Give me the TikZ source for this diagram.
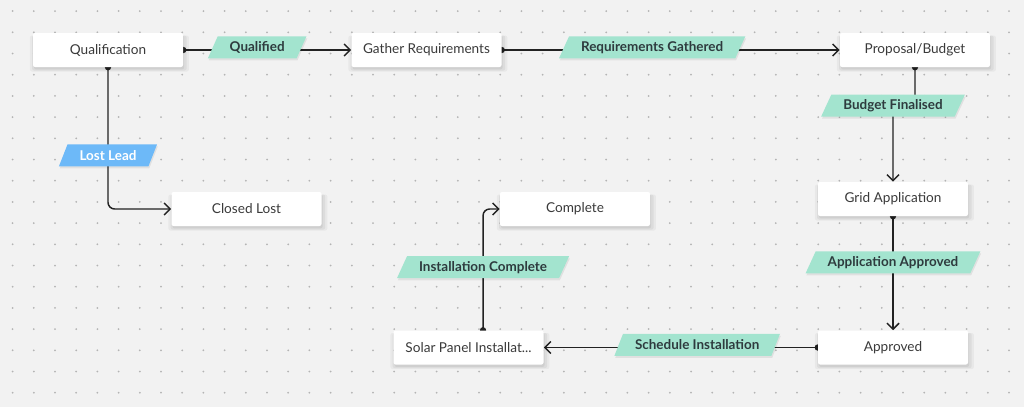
\documentclass[tikz,border=0pt]{standalone}
\usepackage{fontspec}
\setmainfont{Lato}
\usetikzlibrary{shapes.geometric,arrows.meta,shadows,backgrounds}
\definecolor{Canvas}{HTML}{F2F2F2}
\definecolor{GridDot}{HTML}{B4B4B4}
\definecolor{Ink}{HTML}{222222}
\definecolor{BoxText}{HTML}{3A3A3A}
\definecolor{Mint}{HTML}{A3E4CF}
\definecolor{Sky}{HTML}{6DB9F8}
\definecolor{TagText}{HTML}{2E3B3E}

\begin{document}
\begin{tikzpicture}[x=.75pt,y=-.75pt,
  softshade/.style={
   drop shadow={shadow xshift=1pt,shadow yshift=-2.5pt,shadow scale=1.06,opacity=.04,fill=black},
   drop shadow={shadow xshift=1pt,shadow yshift=-2.2pt,shadow scale=1.03,opacity=.05,fill=black},
   drop shadow={shadow xshift=.8pt,shadow yshift=-1.8pt,opacity=.06,fill=black}},
  stage/.style={fill=white,rounded corners=1.5pt,minimum width=112.5pt,
   minimum height=25.5pt,inner sep=0pt,text=BoxText,
   font=\fontsize{10.2}{12}\selectfont,softshade},
  tag/.style={trapezium,trapezium stretches=true,trapezium left angle=56,
   trapezium right angle=124,sharp corners,
   fill=Mint,minimum height=16.5pt,inner ysep=1pt,inner xsep=9pt,text=TagText,
   font=\fontsize{10.1}{12}\selectfont\bfseries,yshift=2pt,
   drop shadow={shadow xshift=.6pt,shadow yshift=-1.6pt,opacity=.07,fill=black}},
  losttag/.style={tag,fill=Sky,text=white},
  link/.style={draw=Ink,line width=1.1pt,rounded corners=5pt,shorten <=-2.3pt,
   {Circle[length=4.6pt]}-{Straight Barb[length=4.5pt,width=9pt]}}]
  \useasboundingbox (0,0) rectangle (1024,407);
  \begin{scope}[on background layer]
    \fill[Canvas] (0,0) rectangle (1024,407);
    \foreach \i in {0,...,47}
      \foreach \j in {0,...,18}
        \fill[GridDot] (12.6+21.2*\i,11.1+21.2*\j) circle (.75pt);
  \end{scope}
  \node[stage] (qual) at (108,50) {Qualification};
  \node[stage] (gather) at (426.5,50) {Gather Requirements};
  \node[stage] (prop) at (915,50) {Proposal/Budget};
  \node[stage] (closed) at (246.5,209) {Closed Lost};
  \node[stage] (complete) at (575,209) {Complete};
  \node[stage] (grid) at (893,199) {Grid Application};
  \node[stage] (approved) at (893,347.5) {Approved};
  \node[stage] (solar) at (468.5,347.5) {Solar Panel Installat...};
  \begin{scope}[on background layer]
    \draw[link] (qual.east) -- node[tag,pos=.44] (tqual) {Qualified} (gather.west);
    \draw[link] (gather.east) -- node[tag,pos=.445] (treq) {Requirements Gathered} (prop.west);
    \draw[link] (prop.south) -- ++(0,41) -| node[tag,pos=.5] (tbudget) {Budget Finalised} (grid.north);
    \draw[link] (grid.south) -- node[tag,pos=.427] (tapp) {Application Approved} (approved.north);
    \draw[link] (approved.west) -- node[tag,pos=.44] (tsched) {Schedule Installation} (solar.east);
    \draw[link] ([xshift=10.9pt]solar.north) |- node[tag,pos=.249] (tinst) {Installation Complete} (complete.west);
    \draw[link] (qual.south) |- node[losttag,pos=.32] (tlost) {Lost Lead} (closed.west);
  \end{scope}
\end{tikzpicture}
\end{document}
